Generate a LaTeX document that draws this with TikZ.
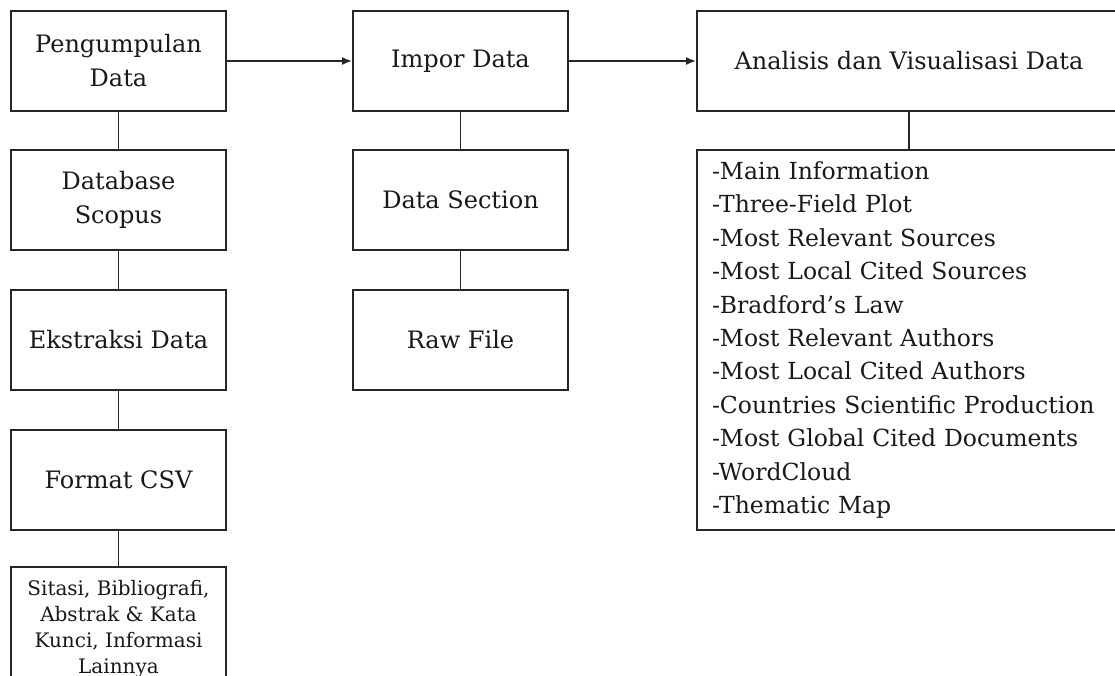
\documentclass[tikz,border=0pt]{standalone}
\usepackage{fontspec}
\setmainfont{DejaVu Serif}
\usetikzlibrary{arrows.meta}
\begin{document}
\begin{tikzpicture}[x=1pt,y=-1pt,
  box/.style={draw=black!85, line width=1.8pt, minimum width=215pt, minimum height=100pt,
    align=center, inner sep=0pt, text=black!90, font=\fontsize{24}{34}\selectfont},
  widebox/.style={box, minimum width=424pt},
  listbox/.style={draw=black!85, line width=1.8pt, minimum width=424pt, minimum height=380pt,
    align=left, text width=394pt, inner xsep=15pt, inner ysep=0pt, text=black!90,
    font=\fontsize{23.5}{33.4}\selectfont},
  smallbox/.style={box, minimum height=124pt, font=\fontsize{20}{26}\selectfont},
  link/.style={draw=black!85, line width=1.8pt},
  flow/.style={link, -{Latex[length=10pt,width=8pt]}}]
\useasboundingbox (0,0) rectangle (1115,675);
\clip (0,0) rectangle (1115,675);
% column 1
\node[box] (pd) at (118.5,61) {Pengumpulan\\Data};
\node[box] (ds) at (118.5,200) {Database\\Scopus};
\node[box] (ed) at (118.5,340) {Ekstraksi Data};
\node[box] (fc) at (118.5,480) {Format CSV};
\node[smallbox] (sb) at (118.5,629) {Sitasi, Bibliografi,\\Abstrak \& Kata\\Kunci, Informasi\\Lainnya};
% column 2
\node[box] (id) at (460.5,61) {Impor Data};
\node[box] (dsec) at (460.5,200) {Data Section};
\node[box] (rf) at (460.5,340) {Raw File};
% column 3
\node[widebox] (av) at (909,61) {Analisis dan Visualisasi Data};
\node[listbox] (list) at (909,340) {-Main Information\\-Three-Field Plot\\-Most Relevant Sources\\-Most Local Cited Sources\\-Bradford’s Law\\-Most Relevant Authors\\-Most Local Cited Authors\\-Countries Scientific Production\\-Most Global Cited Documents\\-WordCloud\\-Thematic Map};
% connectors
\draw[flow] (pd) -- (id);
\draw[flow] (id) -- (av);
\draw[link] (pd) -- (ds);
\draw[link] (ds) -- (ed);
\draw[link] (ed) -- (fc);
\draw[link] (fc) -- (sb);
\draw[link] (id) -- (dsec);
\draw[link] (dsec) -- (rf);
\draw[link] (av) -- (list);
\end{tikzpicture}
\end{document}
